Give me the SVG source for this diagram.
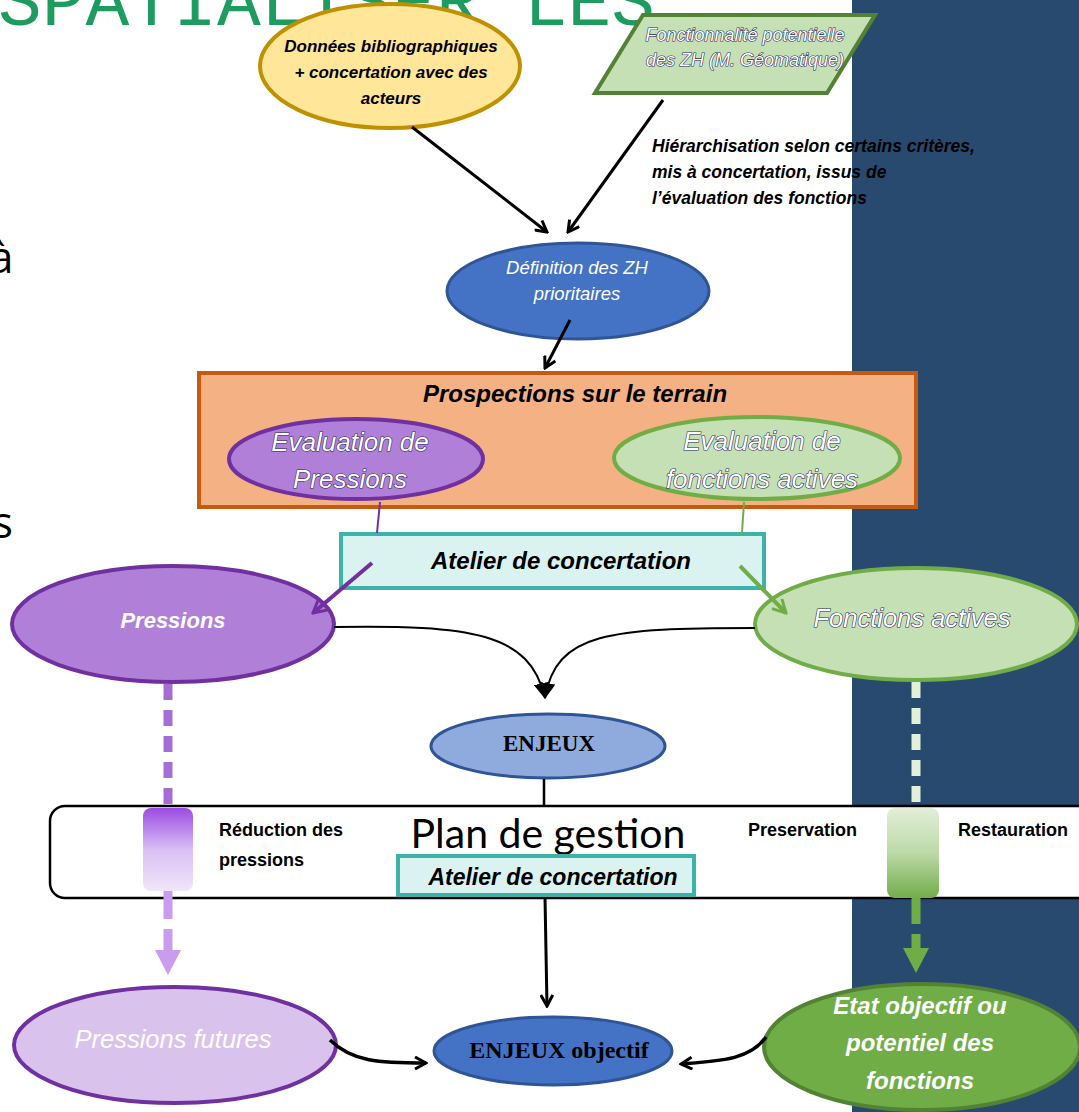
<svg xmlns="http://www.w3.org/2000/svg" width="1079" height="1112" viewBox="0 0 1079 1112">
<style>
.bi{font-family:"Liberation Sans",Arial,sans-serif;font-weight:bold;font-style:italic;fill:#000}
.wi{font-family:"Liberation Sans",Arial,sans-serif;font-style:italic;fill:#fff}
.wo{font-family:"Liberation Sans",Arial,sans-serif;font-style:italic;fill:#fff;stroke:#2a2a5a;stroke-width:1.2;paint-order:stroke}
.b{font-family:"Liberation Sans",Arial,sans-serif;font-weight:bold;fill:#000}
.serif{font-family:"Liberation Serif",serif;font-weight:bold;fill:#000}
.conn{fill:none;stroke:#000}
</style>
<defs>
<marker id="ab" viewBox="0 0 14 14" refX="12" refY="7" markerWidth="14" markerHeight="14" markerUnits="userSpaceOnUse" orient="auto"><path d="M1,1 L12,7 L1,13" fill="none" stroke="#000" stroke-width="3"/></marker>
<marker id="ap" viewBox="0 0 16 16" refX="14" refY="8" markerWidth="16" markerHeight="16" markerUnits="userSpaceOnUse" orient="auto"><path d="M1,1 L14,8 L1,15" fill="none" stroke="#7030A0" stroke-width="3"/></marker>
<marker id="ag" viewBox="0 0 16 16" refX="14" refY="8" markerWidth="16" markerHeight="16" markerUnits="userSpaceOnUse" orient="auto"><path d="M1,1 L14,8 L1,15" fill="none" stroke="#70AD47" stroke-width="3"/></marker>
<marker id="af" viewBox="0 0 16 16" refX="15" refY="8" markerWidth="16" markerHeight="16" markerUnits="userSpaceOnUse" orient="auto"><path d="M0,0 L16,8 L0,16 Z" fill="#000"/></marker>
<linearGradient id="gp" x1="0" y1="0" x2="0" y2="1"><stop offset="0" stop-color="#9B4BE3"/><stop offset="0.5" stop-color="#D9BFF3"/><stop offset="1" stop-color="#F1E6FB"/></linearGradient>
<linearGradient id="gg" x1="0" y1="0" x2="0" y2="1"><stop offset="0" stop-color="#E2EFD9"/><stop offset="0.5" stop-color="#BCD9A6"/><stop offset="1" stop-color="#72AE4A"/></linearGradient>
</defs>

<rect x="852" y="0" width="227" height="1112" fill="#284A6F"/>
<text x="-2" y="25" font-family="'Liberation Mono',monospace" font-size="73" fill="#1E9C5F">SPATIALISER LES</text>
<text x="-11" y="273" font-family="'Open Sans',sans-serif" font-size="44" fill="#000">à</text>
<text x="-8" y="538" font-family="'Open Sans',sans-serif" font-size="44" fill="#000">s</text>

<g id="n-donnees">
<ellipse cx="390" cy="66" rx="130" ry="62" fill="#FFE699" stroke="#BF9000" stroke-width="4"/>
<text class="bi" text-anchor="middle" font-size="17"><tspan x="391" y="52">Données bibliographiques</tspan><tspan x="391" y="78">+ concertation avec des</tspan><tspan x="391" y="104">acteurs</tspan></text>
</g>

<g id="n-fonctionnalite">
<polygon points="643,15 875,15 827,93 595,93" fill="#C5E0B4" stroke="#538135" stroke-width="4"/>
<text class="wo" text-anchor="middle" font-size="18" stroke-width="1"><tspan x="745" y="41">Fonctionnalité potentielle</tspan><tspan x="745" y="66">des ZH (M. Géomatique)</tspan></text>
</g>

<g id="n-hierarchisation">
<text class="bi" font-size="17.5"><tspan x="652" y="152">Hiérarchisation selon certains critères,</tspan><tspan x="652" y="178">mis à concertation, issus de</tspan><tspan x="652" y="204">l’évaluation des fonctions</tspan></text>
</g>

<g id="n-definition">
<ellipse cx="578" cy="291" rx="131" ry="48" fill="#4472C4" stroke="#2F5597" stroke-width="3"/>
<text class="wi" text-anchor="middle" font-size="18.5"><tspan x="577" y="274">Définition des ZH</tspan><tspan x="577" y="300">prioritaires</tspan></text>
</g>

<g id="n-prospections">
<rect x="199" y="373" width="717" height="134" fill="#F4B183" stroke="#C55A11" stroke-width="4"/>
<text class="bi" x="575" y="402" text-anchor="middle" font-size="24">Prospections sur le terrain</text>
</g>

<g id="n-eval-pressions">
<ellipse cx="356" cy="459" rx="127" ry="40" fill="#B07FD8" stroke="#7030A0" stroke-width="4"/>
<text class="wo" text-anchor="middle" font-size="26"><tspan x="350" y="451">Evaluation de</tspan><tspan x="350" y="488">Pressions</tspan></text>
</g>

<g id="n-eval-fonctions">
<ellipse cx="757" cy="458" rx="143" ry="41" fill="#C5E0B4" stroke="#70AD47" stroke-width="4"/>
<text class="wo" text-anchor="middle" font-size="26"><tspan x="762" y="450">Evaluation de</tspan><tspan x="762" y="488">fonctions actives</tspan></text>
</g>

<g id="n-atelier1">
<rect x="341" y="534" width="423" height="54" fill="#DAF3F1" stroke="#3BB3A9" stroke-width="4"/>
<text class="bi" x="561" y="569" text-anchor="middle" font-size="24">Atelier de concertation</text>
</g>

<g id="n-pressions">
<ellipse cx="173" cy="624" rx="161" ry="58" fill="#B07FD8" stroke="#7030A0" stroke-width="4"/>
<text class="wi" x="173" y="628" text-anchor="middle" font-size="22" font-weight="bold">Pressions</text>
</g>

<g id="n-fonctions">
<ellipse cx="916" cy="624" rx="161" ry="56" fill="#C5E0B4" stroke="#70AD47" stroke-width="4"/>
<text class="wo" x="912" y="627" text-anchor="middle" font-size="25.5" stroke="#999" stroke-width="0.8">Fonctions actives</text>
</g>

<g id="n-enjeux">
<ellipse cx="548" cy="746" rx="117" ry="32" fill="#8FAADC" stroke="#2F5597" stroke-width="3"/>
<text class="serif" x="549" y="751" text-anchor="middle" font-size="23">ENJEUX</text>
</g>

<g id="n-plan">
<rect x="50" y="806" width="1060" height="92" rx="15" fill="#fff" stroke="#000" stroke-width="2.5"/>
<text x="548" y="848" text-anchor="middle" font-family="Lato,'Liberation Sans',sans-serif" font-size="41" fill="#000">Plan de gestion</text>
<text class="b" font-size="18"><tspan x="219" y="836">Réduction des</tspan><tspan x="219" y="866">pressions</tspan></text>
<text class="b" x="748" y="836" font-size="18">Preservation</text>
<text class="b" x="958" y="836" font-size="18">Restauration</text>
<rect x="143" y="808" width="50" height="83" rx="8" fill="url(#gp)"/>
<rect x="887" y="808" width="52" height="90" rx="8" fill="url(#gg)"/>
</g>

<g id="n-atelier2">
<rect x="398" y="856" width="296" height="39" fill="#DAF3F1" stroke="#3BB3A9" stroke-width="4"/>
<text class="bi" x="553" y="885" text-anchor="middle" font-size="23">Atelier de concertation</text>
</g>

<g id="n-pressions-futures">
<ellipse cx="175" cy="1045" rx="161" ry="58" fill="#D9C2EC" stroke="#7030A0" stroke-width="4"/>
<text class="wi" x="173" y="1048" text-anchor="middle" font-size="25.5">Pressions futures</text>
</g>

<g id="n-enjeux-objectif">
<ellipse cx="553" cy="1051" rx="119" ry="34" fill="#4472C4" stroke="#2F5597" stroke-width="3"/>
<text class="serif" x="559" y="1058" text-anchor="middle" font-size="24">ENJEUX objectif</text>
</g>

<g id="n-etat">
<ellipse cx="922" cy="1047" rx="158" ry="63" fill="#70AD47" stroke="#548235" stroke-width="4"/>
<text class="wi" text-anchor="middle" font-size="24" font-weight="bold"><tspan x="920" y="1014">Etat objectif ou</tspan><tspan x="920" y="1051">potentiel des</tspan><tspan x="920" y="1089">fonctions</tspan></text>
</g>

<g id="connectors">
<path class="conn" d="M412,127 L547,232" stroke-width="3" marker-end="url(#ab)"/>
<path class="conn" d="M663,100 L568,232" stroke-width="3" marker-end="url(#ab)"/>
<path class="conn" d="M570,320 L545,368" stroke-width="3" marker-end="url(#ab)"/>
<path d="M380,502 L377,533" stroke="#7030A0" stroke-width="2" fill="none"/>
<path d="M744,502 L742,533" stroke="#70AD47" stroke-width="2" fill="none"/>
<path d="M372,563 L313,613" stroke="#7030A0" stroke-width="4" fill="none" marker-end="url(#ap)"/>
<path d="M740,566 L786,613" stroke="#70AD47" stroke-width="4" fill="none" marker-end="url(#ag)"/>
<path class="conn" d="M334,627 C470,625 530,632 545,698" stroke-width="2" marker-end="url(#af)"/>
<path class="conn" d="M755,628 C610,628 556,632 545,698" stroke-width="2" marker-end="url(#af)"/>
<path class="conn" d="M544,779 L544,806" stroke-width="2.5"/>
<path class="conn" d="M545,897 L547,1006" stroke-width="3" marker-end="url(#ab)"/>
<path class="conn" d="M330,1040 C352,1062 380,1063 426,1063" stroke-width="3.5" marker-end="url(#ab)"/>
<path class="conn" d="M766,1037 C750,1060 720,1061 681,1064" stroke-width="3.5" marker-end="url(#ab)"/>
<path d="M168,684 L168,808" stroke="#A66DD4" stroke-width="9" stroke-dasharray="16 10" fill="none"/>
<path d="M168,891 L168,950" stroke="#C99CF0" stroke-width="9" stroke-dasharray="28 10" fill="none"/>
<polygon points="155,950 181,950 168,975" fill="#C99CF0"/>
<path d="M916,682 L916,808" stroke="#E2EFD9" stroke-width="9" stroke-dasharray="16 10" fill="none"/>
<path d="M916,898 L916,950" stroke="#70AD47" stroke-width="9" stroke-dasharray="26 10" fill="none"/>
<polygon points="903,948 929,948 916,973" fill="#70AD47"/>
</g>
</svg>
